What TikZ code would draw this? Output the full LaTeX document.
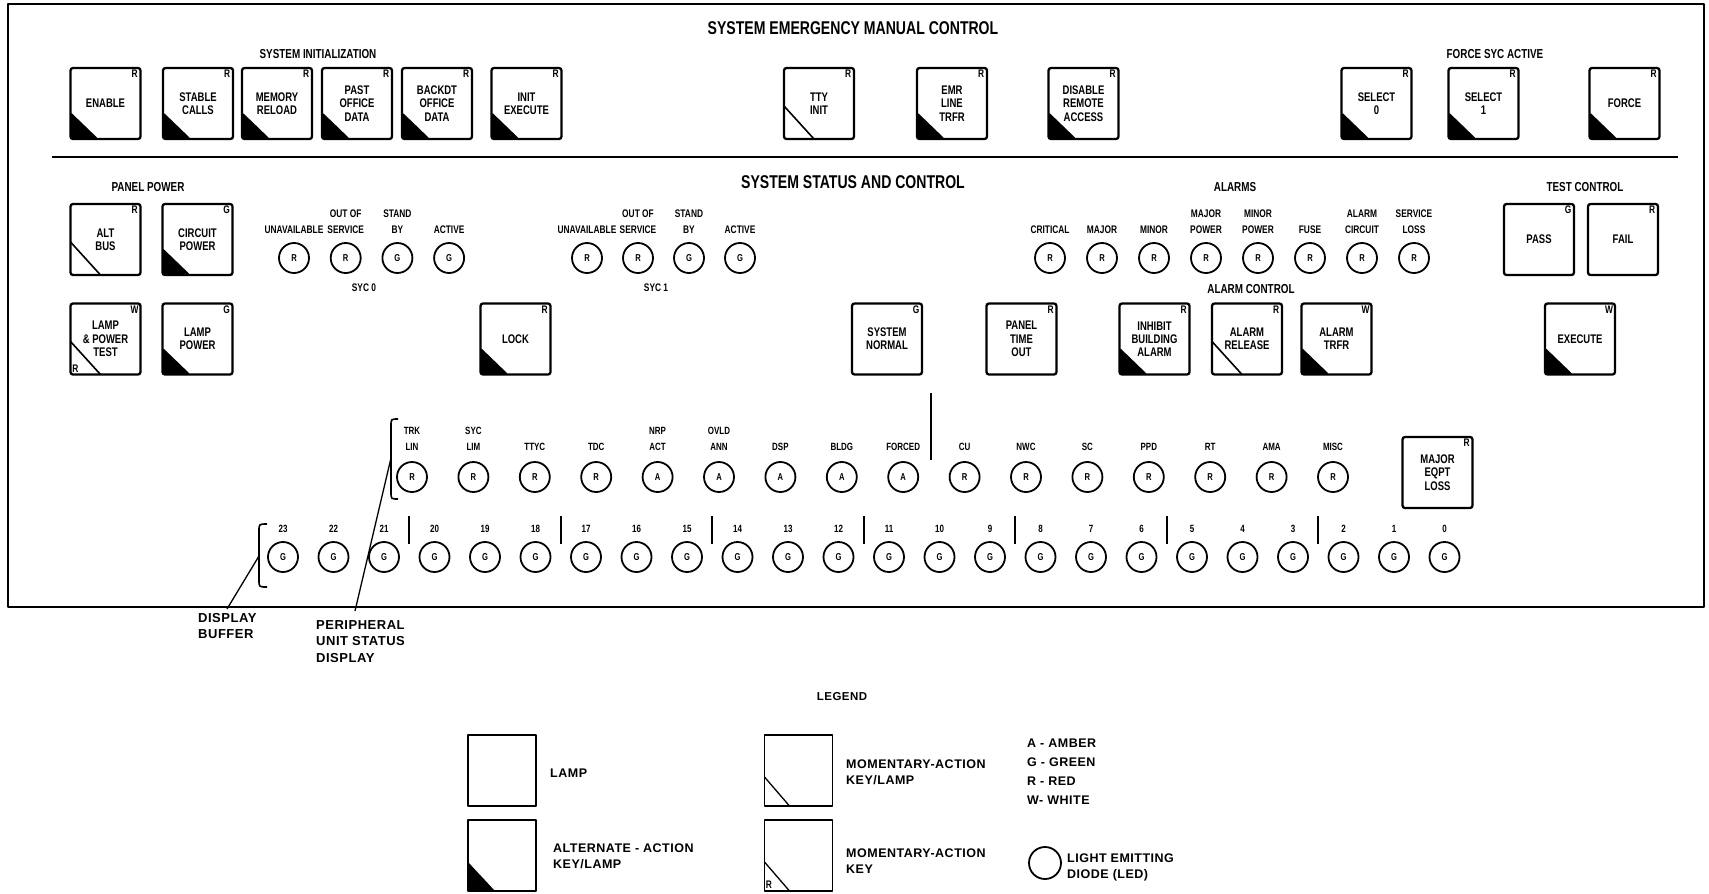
\documentclass[tikz,border=0pt]{standalone}
\usepackage{fontspec}
\usepackage{tikz}
\usetikzlibrary{calc}

\newfontfamily\panelfont[FakeStretch=0.76]{Liberation Sans}
\newfontfamily\legendfont[LetterSpace=4]{Liberation Sans}

\begin{document}
\begin{tikzpicture}[
  x=1pt, y=-1pt,
  line join=round,
  title/.style={inner sep=0pt, font=\panelfont\bfseries\fontsize{18.5}{20}\selectfont},
  subtitle/.style={inner sep=0pt, font=\panelfont\bfseries\fontsize{13}{14}\selectfont},
  keybox/.style={draw, line width=2.3pt, rounded corners=2.5pt, minimum width=70pt, minimum height=71pt,
    inner sep=0pt, align=center, font=\panelfont\bfseries\fontsize{12.5}{13.3}\selectfont},
  lampkey/.style={keybox},
  altkey/.style={keybox, path picture={
    \fill (path picture bounding box.south west) -- ++(0,-27) -- ++(28,27) -- cycle;}},
  momkey/.style={keybox, path picture={
    \draw[line width=1.6pt] ([yshift=33pt]path picture bounding box.south west)
      -- ([xshift=30pt]path picture bounding box.south west);}},
  lamptag/.style={inner sep=0pt, font=\panelfont\bfseries\fontsize{11}{11}\selectfont},
  led/.style={draw, circle, line width=1.8pt, minimum size=30pt, inner sep=0pt,
    font=\panelfont\bfseries\fontsize{10}{10}\selectfont},
  ledlabel/.style={inner sep=0pt, anchor=south, align=center, font=\panelfont\bfseries\fontsize{11}{16}\selectfont},
  unitlabel/.style={inner sep=0pt, anchor=south, align=center, font=\panelfont\bfseries\fontsize{10.5}{16}\selectfont},
  bracket/.style={line width=1.6pt},
  leader/.style={line width=1.3pt},
  calltext/.style={inner sep=0pt, anchor=north west, align=left, font=\legendfont\bfseries\fontsize{13}{16.5}\selectfont},
  legendbox/.style={draw, line width=1.3pt, minimum width=68pt, minimum height=71pt, inner sep=0pt},
  legalt/.style={legendbox, path picture={
    \fill (path picture bounding box.south west) -- ++(0,-29) -- ++(27,29) -- cycle;}},
  legmom/.style={legendbox, path picture={
    \draw[line width=1.3pt] ([yshift=29pt]path picture bounding box.south west)
      -- ([xshift=25pt]path picture bounding box.south west);}},
  legendtext/.style={inner sep=0pt, anchor=west, align=left, font=\legendfont\bfseries\fontsize{12.5}{16}\selectfont}
]

\useasboundingbox (0,0) rectangle (1709,894);

% Panel outline and divider
\draw[line width=2pt] (8,4) rectangle (1704,607);
\draw[line width=2.6pt] (52,157) -- (1678,157);

% ==================== SYSTEM EMERGENCY MANUAL CONTROL ====================
\node[title] (emc) at (853,28) {SYSTEM EMERGENCY MANUAL CONTROL};
\node[subtitle] (sysinit) at (318,54) {SYSTEM INITIALIZATION};
\node[subtitle] (forcesyc) at (1495,54) {FORCE SYC ACTIVE};

\node[altkey] (enable) at (105.5,103.5) {ENABLE};
\node[lamptag] (enable-t) at ([shift={(-7,7)}]enable.north east) {R};
\node[altkey] (stable) at (198,103.5) {STABLE\\CALLS};
\node[lamptag] (stable-t) at ([shift={(-7,7)}]stable.north east) {R};
\node[altkey] (memory) at (277,103.5) {MEMORY\\RELOAD};
\node[lamptag] (memory-t) at ([shift={(-7,7)}]memory.north east) {R};
\node[altkey] (past) at (357,103.5) {PAST\\OFFICE\\DATA};
\node[lamptag] (past-t) at ([shift={(-7,7)}]past.north east) {R};
\node[altkey] (backdt) at (437,103.5) {BACKDT\\OFFICE\\DATA};
\node[lamptag] (backdt-t) at ([shift={(-7,7)}]backdt.north east) {R};
\node[altkey] (initx) at (526.5,103.5) {INIT\\EXECUTE};
\node[lamptag] (initx-t) at ([shift={(-7,7)}]initx.north east) {R};

\node[momkey] (ttyinit) at (819,103.5) {TTY\\INIT};
\node[lamptag] (ttyinit-t) at ([shift={(-7,7)}]ttyinit.north east) {R};
\node[altkey] (emrline) at (952,103.5) {EMR\\LINE\\TRFR};
\node[lamptag] (emrline-t) at ([shift={(-7,7)}]emrline.north east) {R};
\node[altkey] (disable) at (1083.5,103.5) {DISABLE\\REMOTE\\ACCESS};
\node[lamptag] (disable-t) at ([shift={(-7,7)}]disable.north east) {R};

\node[altkey] (select0) at (1376.5,103.5) {SELECT\\0};
\node[lamptag] (select0-t) at ([shift={(-7,7)}]select0.north east) {R};
\node[altkey] (select1) at (1483.5,103.5) {SELECT\\1};
\node[lamptag] (select1-t) at ([shift={(-7,7)}]select1.north east) {R};
\node[altkey] (force) at (1624.5,103.5) {FORCE};
\node[lamptag] (force-t) at ([shift={(-7,7)}]force.north east) {R};

% ==================== SYSTEM STATUS AND CONTROL ====================
\node[title] (ssc) at (853,182) {SYSTEM STATUS AND CONTROL};
\node[subtitle] (panelpower) at (148,187) {PANEL POWER};
\node[subtitle] (alarms) at (1235,187) {ALARMS};
\node[subtitle] (testctl) at (1585,187) {TEST CONTROL};
\node[subtitle] (alarmctl) at (1251,289) {ALARM CONTROL};

% Panel power keys
\node[momkey] (altbus) at (105.5,239.5) {ALT\\BUS};
\node[lamptag] (altbus-t) at ([shift={(-7,7)}]altbus.north east) {R};
\node[altkey] (circpower) at (197.5,239.5) {CIRCUIT\\POWER};
\node[lamptag] (circpower-t) at ([shift={(-7,7)}]circpower.north east) {G};
\node[momkey] (lamptest) at (105.5,339) {LAMP\\\& POWER\\TEST};
\node[lamptag] (lamptest-t) at ([shift={(-7,7)}]lamptest.north east) {W};
\node[lamptag] (lamptest-k) at ([shift={(6,-7)}]lamptest.south west) {R};
\node[altkey] (lamppower) at (197.5,339) {LAMP\\POWER};
\node[lamptag] (lamppower-t) at ([shift={(-7,7)}]lamppower.north east) {G};

% SYC 0 and SYC 1 status
\foreach \txt/\c [count=\i from 0] in {UNAVAILABLE/R, OUT OF\\SERVICE/R, STAND\\BY/G, ACTIVE/G} {
  \node[led] (syc0-\i) at ({294+51.7*\i},258) {\c};
  \node[ledlabel] (syc0-lab\i) at ([yshift=8pt]syc0-\i.north) {\txt};
  \node[led] (syc1-\i) at ({587+51*\i},258) {\c};
  \node[ledlabel] (syc1-lab\i) at ([yshift=8pt]syc1-\i.north) {\txt};
}
\node[ledlabel, anchor=center] (syc0) at (364,288) {SYC 0};
\node[ledlabel, anchor=center] (syc1) at (656,288) {SYC 1};

\node[altkey] (lock) at (515.5,339) {LOCK};
\node[lamptag] (lock-t) at ([shift={(-7,7)}]lock.north east) {R};
\node[lampkey] (sysnormal) at (887,339) {SYSTEM\\NORMAL};
\node[lamptag] (sysnormal-t) at ([shift={(-7,7)}]sysnormal.north east) {G};
\node[lampkey] (paneltime) at (1021.5,339) {PANEL\\TIME\\OUT};
\node[lamptag] (paneltime-t) at ([shift={(-7,7)}]paneltime.north east) {R};

% Alarms
\foreach \txt [count=\i from 0] in {CRITICAL, MAJOR, MINOR, MAJOR\\POWER, MINOR\\POWER, FUSE, ALARM\\CIRCUIT, SERVICE\\LOSS} {
  \node[led] (alarm-\i) at ({1050+52*\i},258) {R};
  \node[ledlabel] (alarm-lab\i) at ([yshift=8pt]alarm-\i.north) {\txt};
}
\node[altkey] (inhibit) at (1154.5,339) {INHIBIT\\BUILDING\\ALARM};
\node[lamptag] (inhibit-t) at ([shift={(-7,7)}]inhibit.north east) {R};
\node[momkey] (almrelease) at (1247,339) {ALARM\\RELEASE};
\node[lamptag] (almrelease-t) at ([shift={(-7,7)}]almrelease.north east) {R};
\node[altkey] (almtrfr) at (1336.5,339) {ALARM\\TRFR};
\node[lamptag] (almtrfr-t) at ([shift={(-7,7)}]almtrfr.north east) {W};

% Test control
\node[lampkey] (pass) at (1539,239.5) {PASS};
\node[lamptag] (pass-t) at ([shift={(-7,7)}]pass.north east) {G};
\node[lampkey] (fail) at (1623,239.5) {FAIL};
\node[lamptag] (fail-t) at ([shift={(-7,7)}]fail.north east) {R};
\node[altkey] (execute) at (1580,339) {EXECUTE};
\node[lamptag] (execute-t) at ([shift={(-7,7)}]execute.north east) {W};

% Peripheral unit status display
\foreach \txt/\c [count=\i from 0] in {TRK\\LIN/R, SYC\\LIM/R, TTYC/R, TDC/R, NRP\\ACT/A, OVLD\\ANN/A, DSP/A, BLDG/A,
    FORCED/A, CU/R, NWC/R, SC/R, PPD/R, RT/R, AMA/R, MISC/R} {
  \node[led] (unit-\i) at ({412+61.4*\i},477) {\c};
  \node[unitlabel] (unit-lab\i) at ([yshift=10pt]unit-\i.north) {\txt};
}
\draw[line width=1.6pt] (931,393) -- (931,460);
\node[lampkey] (majorloss) at (1437.5,472.5) {MAJOR\\EQPT\\LOSS};
\node[lamptag] (majorloss-t) at ([shift={(-7,7)}]majorloss.north east) {R};

% Display buffer
\foreach \k in {0,...,23} {
  \pgfmathtruncatemacro\num{23-\k}
  \node[led] (buf\num) at ({283+50.5*\k},557) {G};
  \node[unitlabel] (buf-lab\num) at ([yshift=8pt]buf\num.north) {\num};
}
\foreach \k in {2.5,5.5,...,20.5}
  \draw[line width=1.6pt] ({283+50.5*\k},516) -- ({283+50.5*\k},544);

% Brackets and call-outs
\draw[bracket] (398,419) .. controls (391,419) .. (391,426) -- (391,492) .. controls (391,499) .. (398,499);
\draw[bracket] (267,524) .. controls (259,524) .. (259,531) -- (259,580) .. controls (259,587) .. (267,587);
\coordinate (pusd-tip) at (391,458);
\coordinate (pusd-foot) at (355,611);
\coordinate (dbuf-tip) at (259,556);
\coordinate (dbuf-foot) at (227,609);
\draw[leader] (pusd-tip) -- (pusd-foot);
\draw[leader] (dbuf-tip) -- (dbuf-foot);
\node[calltext] (dbuf) at (198,613) {DISPLAY\\BUFFER};
\node[calltext] (pusd) at (316,620) {PERIPHERAL\\UNIT STATUS\\DISPLAY};

% ==================== LEGEND ====================
\node[legendtext, anchor=center, font=\legendfont\bfseries\fontsize{11.5}{12}\selectfont] (legend) at (842,697) {LEGEND};

\node[legendbox] (lg-lamp) at (502,770.5) {};
\node[legendtext] (lg-lamp-t) at (550,773) {LAMP};
\node[legalt] (lg-alt) at (502,855.5) {};
\node[legendtext] (lg-alt-t) at (553,856) {ALTERNATE - ACTION\\KEY/LAMP};
\node[legmom] (lg-mkl) at (798.5,770.5) {};
\node[legendtext] (lg-mkl-t) at (846,772) {MOMENTARY-ACTION\\KEY/LAMP};
\node[legmom] (lg-mk) at (798.5,855.5) {};
\node[lamptag] (lg-mk-k) at ([shift={(5,-7)}]lg-mk.south west) {R};
\node[legendtext] (lg-mk-t) at (846,861) {MOMENTARY-ACTION\\KEY};

\node[legendtext, font=\legendfont\bfseries\fontsize{12.5}{19}\selectfont] (lg-colours) at (1027,771.5)
  {A - AMBER\\G - GREEN\\R - RED\\W- WHITE};
\node[led, minimum size=32pt] (lg-led) at (1045,863) {};
\node[legendtext] (lg-led-t) at (1067,867) {LIGHT EMITTING\\DIODE (LED)};

\end{tikzpicture}
\end{document}
